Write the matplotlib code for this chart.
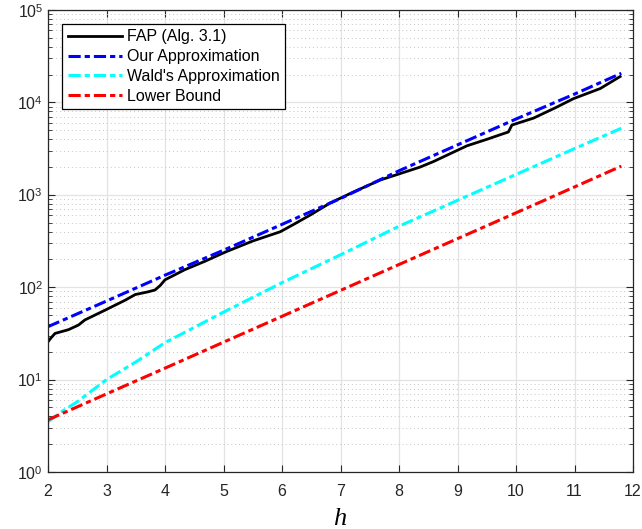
import numpy as np
import matplotlib
matplotlib.use("Agg")
import matplotlib.pyplot as plt
from matplotlib.ticker import LogLocator, NullFormatter, FuncFormatter

plt.rcParams['font.family'] = ['Liberation Sans', 'DejaVu Sans']
plt.rcParams['mathtext.fontset'] = 'custom'
plt.rcParams['mathtext.rm'] = 'Liberation Sans'
plt.rcParams['mathtext.it'] = 'Liberation Serif:italic'

# ------------------------------------------------------------
#                   data
# ------------------------------------------------------------

h_fap = [2.0, 2.05, 2.12, 2.35, 2.52, 2.63, 2.97, 3.32, 3.49, 3.71, 3.83, 3.92,
         4.0, 4.34, 4.68, 5.03, 5.5, 5.97, 6.2, 6.48, 6.82, 7.22, 7.68, 8.02,
         8.36, 8.59, 9.16, 9.5, 9.73, 9.87, 9.93, 10.3, 10.7, 10.98, 11.44, 11.78]
fap = [25.7, 28.2, 31.6, 34.7, 38.9, 44.2, 56.2, 72.4, 83.2, 89.1, 93.3, 104.7,
       120.2, 154.9, 190.5, 239.9, 316.2, 398.1, 478.6, 602.6, 812.8, 1072, 1445, 1698,
       1995, 2291, 3388, 3981, 4467, 4786, 5689, 6761, 8913, 10965, 14125, 19055]

h_apx = [2, 3, 4, 5, 6, 7, 8, 9, 10, 11, 11.8]
our_apx = [37.4, 70.8, 134.9, 251.2, 478.6, 912.0, 1820, 3467, 6607, 12303, 20654]

h_wald = [2, 2.25, 2.5, 3, 3.5, 4, 5, 6, 7, 8, 9, 10, 11, 11.8]
wald = [3.5, 4.57, 5.75, 10.0, 15.5, 25.1, 53.7, 112, 224, 457, 871, 1660, 3162, 5248]

h_lb = [2, 3, 4, 5, 6, 7, 8, 9, 10, 11, 11.8]
lower = [3.67, 7.0, 13.3, 25.4, 48.4, 92.3, 176, 335, 638, 1216, 2042]

# ------------------------------------------------------------
#                           plot
# ------------------------------------------------------------

fig = plt.figure(figsize=(6.42, 5.29), dpi=100)
ax = fig.add_axes([48/642, 1 - 472/529, 585/642, 462/529])

dd = (0, (4, 1.3, 1.7, 1.3))
ax.plot(h_fap, fap, color='k', lw=2.0, label='FAP (Alg. 3.1)')
ax.plot(h_apx, our_apx, color=(0, 0, 1), lw=2.2, ls=dd, label='Our Approximation')
ax.plot(h_wald, wald, color=(0, 1, 1), lw=2.2, ls=dd, label="Wald's Approximation")
ax.plot(h_lb, lower, color=(1, 0, 0), lw=2.2, ls=dd, label='Lower Bound')

ax.set_yscale('log')
ax.set_xlim(2, 12)
ax.set_ylim(1, 1e5)
ax.set_xticks(range(2, 13))
ax.yaxis.set_major_locator(LogLocator(base=10, numticks=10))
ax.yaxis.set_minor_locator(LogLocator(base=10, subs=np.arange(2, 10), numticks=20))
ax.yaxis.set_minor_formatter(NullFormatter())
ax.yaxis.set_major_formatter(FuncFormatter(lambda v, p: r'$10^{%d}$' % round(np.log10(v))))

ax.grid(True, which='major', color='#e3e3e3', lw=0.9, ls='-')
ax.grid(True, which='minor', axis='y', color='#c4c4c4', lw=0.7, ls=(0, (1, 3)))
ax.set_axisbelow(True)

ax.tick_params(which='both', direction='in', top=True, right=True, labelsize=11.5,
               color='#262626', labelcolor='#262626')
ax.tick_params(which='major', length=5, width=0.8)
ax.tick_params(which='minor', length=3, width=0.6)
ax.tick_params(axis='x', which='major', pad=9)
for s in ax.spines.values():
    s.set_color('#262626')
    s.set_linewidth(0.9)

ax.set_xlabel('$h$', fontsize=19, labelpad=5)

leg = ax.legend(loc='upper left', bbox_to_anchor=(0.024, 0.970), borderaxespad=0,
                fontsize=11.5, handlelength=3.4, handletextpad=0.3, labelspacing=0.3,
                borderpad=0.35, fancybox=False, framealpha=1)
leg.get_frame().set_edgecolor('k')
leg.get_frame().set_linewidth(0.9)

fig.savefig('out.png', dpi=100)
